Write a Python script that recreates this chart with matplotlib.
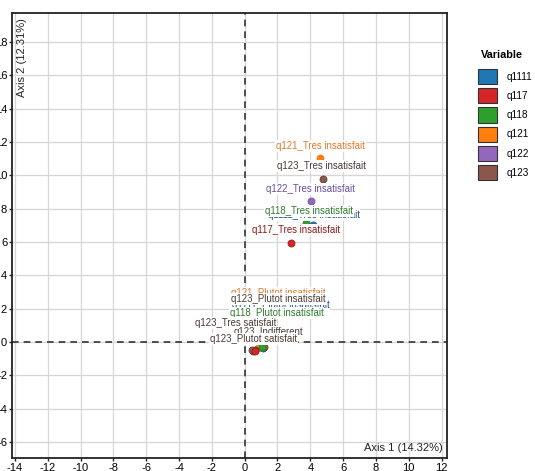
import matplotlib.pyplot as plt
from matplotlib.patches import Patch

plt.rcParams['font.family'] = ['Liberation Sans', 'DejaVu Sans']
plt.rcParams['axes.unicode_minus'] = False

# variables and their colours (legend order)
variables = ['q1111', 'q117', 'q118', 'q121', 'q122', 'q123']
point_colors = ['#1f77b4', '#d62728', '#2ca02c', '#ff7f0e', '#9467bd', '#8c564b']
text_colors = ['#1f4e8a', '#8b1a1a', '#2e7a2e', '#e0782a', '#6a4c9c', '#4a3b36']

# modalities: variable, label, coordinates on axis 1 / axis 2
mod_var = ['q1111', 'q118', 'q122', 'q123', 'q121', 'q117',
           'q121', 'q1111', 'q123', 'q118', 'q123', 'q123', 'q123', 'q117']
mod_label = ['q1111_Tres insatisfait', 'q118_Tres insatisfait', 'q122_Tres insatisfait',
             'q123_Tres insatisfait', 'q121_Tres insatisfait', 'q117_Tres insatisfait',
             'q121_Plutot insatisfait', 'q1111_Plutot insatisfait', 'q123_Plutot insatisfait',
             'q118_Plutot insatisfait', 'q123_Tres satisfait', 'q123_Indifferent',
             'q123_Plutot satisfait', 'q117_Plutot insatisfait']
mod_x = [4.14, 3.72, 4.02, 4.75, 4.57, 2.80,
         0.80, 1.10, 1.20, 1.05, 0.50, 0.65, 0.45, 0.60]
mod_y = [7.00, 7.14, 8.46, 9.78, 11.04, 5.94,
         -0.35, -0.35, -0.30, -0.30, -0.55, -0.45, -0.50, -0.55]

# repelled label offsets (data units), same order as the modalities
lab_dx = [0.06, 0.18, 0.0, -0.06, 0.06, 0.31,
          1.27, 1.09, 0.87, 0.90, -1.05, 0.81, 0.10, None]
lab_dy = [0.62, 0.72, 0.72, 0.78, 0.72, 0.78,
          3.29, 2.57, 2.88, 2.04, 1.69, 1.05, 0.68, None]

fig = plt.figure(figsize=(5.35, 4.71), dpi=100)
ax = fig.add_axes([12 / 535, 13 / 471, 435 / 535, 445 / 471])

ax.set_xlim(-14.18, 12.33)
ax.set_ylim(-6.96, 19.74)
ax.set_xticks(range(-14, 13, 2))
ax.set_yticks(range(-6, 19, 2))
ax.grid(True, color='#d6d6d6', linewidth=0.9, zorder=0)
ax.set_axisbelow(True)
for s in ax.spines.values():
    s.set_linewidth(1.3)
    s.set_color('#222222')
ax.tick_params(labelsize=8, length=2.5, width=1, color='#222222', pad=1)

ax.axhline(0, color='#333333', linewidth=1.2, linestyle=(0, (4, 3)), zorder=1)
ax.axvline(0, color='#333333', linewidth=1.2, linestyle=(0, (4, 3)), zorder=1)

for i in range(len(mod_x)):
    k = variables.index(mod_var[i])
    ax.scatter(mod_x[i], mod_y[i], s=26, color=point_colors[k],
               edgecolors=text_colors[k], linewidths=0.5, zorder=3)

for i in range(len(mod_x)):
    if lab_dx[i] is None:
        continue
    k = variables.index(mod_var[i])
    ax.text(mod_x[i] + lab_dx[i], mod_y[i] + lab_dy[i], mod_label[i],
            ha='center', va='center', fontsize=6.9, color=text_colors[k],
            bbox=dict(fc='white', ec='none', pad=0.6), zorder=4 + i * 0.01)

ax.text(0.99, 0.012, 'Axis 1 (14.32%)', transform=ax.transAxes,
        ha='right', va='bottom', fontsize=8, color='#222222', zorder=6)
ax.text(0.012, 0.988, 'Axis 2 (12.31%)', transform=ax.transAxes, rotation=90,
        ha='left', va='top', fontsize=8, color='#222222', zorder=6)

# legend: title drawn on its own, keys below
fig.text(481 / 535, 1 - 55 / 471, 'Variable', fontsize=7.8, fontweight='bold',
         ha='left', va='center')
handles = [Patch(facecolor=c, edgecolor='#333333', linewidth=0.8) for c in point_colors]
leg = fig.legend(handles, variables, loc='upper left',
                 bbox_to_anchor=(475 / 535, 1 - 66 / 471), frameon=False,
                 fontsize=7.2, handlelength=1.9, handleheight=1.95,
                 handletextpad=0.95, labelspacing=0.41, borderaxespad=0, borderpad=0.3)

fig.savefig('out.png', dpi=100)
